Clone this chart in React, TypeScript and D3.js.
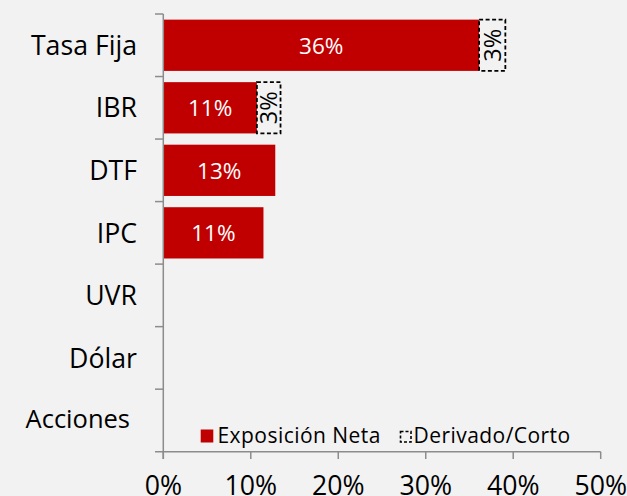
import React from "react";
import * as d3 from "d3";

const categories = ["Tasa Fija", "IBR", "DTF", "IPC", "UVR", "Dólar", "Acciones"];
const exposicionNeta = [36.1, 10.7, 12.8, 11.45, 0, 0, 0];
const derivadoCorto = [3.0, 2.7, 0, 0, 0, 0, 0];
const xTicks = [0, 10, 20, 30, 40, 50];
const legendLabels = ["Exposición Neta", "Derivado/Corto"];

const W = 627;
const H = 496;
const FONT = "'Open Sans', Lato, sans-serif";
const RED = "#c00000";
const AXIS = "#8c8c8c";

export default function App() {
  const x = d3.scaleLinear().domain([0, 50]).range([163.3, 600.7]);
  const y = d3
    .scaleBand<string>()
    .domain(categories)
    .range([14, 451.7])
    .paddingInner(0.18)
    .paddingOuter(0.09);
  const step = y.step();
  const bandTop = (c: string) => 14 + categories.indexOf(c) * step;

  return (
    <svg
      width={W}
      height={H}
      style={{ position: "absolute", left: 0, top: 0, background: "#f2f2f2" }}
      fontFamily={FONT}
    >
      <rect x={0} y={0} width={W} height={H} fill="#f2f2f2" />
      {/* bars */}
      {categories.map((c, i) => {
        const v = exposicionNeta[i];
        const d = derivadoCorto[i];
        const y0 = y(c)!;
        const bw = y.bandwidth();
        return (
          <g key={c}>
            {v > 0 && (
              <rect x={x(0)} y={y0} width={x(v) - x(0)} height={bw} fill={RED} />
            )}
            {v > 0 && (
              <text
                x={(x(0) + x(v)) / 2}
                y={y0 + bw / 2 + 8.3}
                textAnchor="middle"
                fill="#ffffff"
                fontSize={22.5}
              >
                {Math.round(v) + "%"}
              </text>
            )}
            {d > 0 && (
              <g>
                <rect
                  x={x(v)}
                  y={y0}
                  width={x(v + d) - x(v)}
                  height={bw}
                  fill="none"
                  stroke="#000"
                  strokeWidth={1.8}
                  strokeDasharray="4,2.5"
                />
                <text
                  transform={`translate(${(x(v) + x(v + d)) / 2 + 8.3},${y0 + bw / 2}) rotate(-90)`}
                  textAnchor="middle"
                  fill="#000"
                  fontSize={23.5}
                >
                  {Math.round(d) + "%"}
                </text>
              </g>
            )}
          </g>
        );
      })}
      {/* y axis */}
      <line x1={x(0)} x2={x(0)} y1={14} y2={459} stroke={AXIS} strokeWidth={1.5} />
      {categories.map((c) => (
        <line key={"yt" + c} x1={155} x2={x(0)} y1={bandTop(c)} y2={bandTop(c)} stroke={AXIS} strokeWidth={1.5} />
      ))}
      {categories.map((c, i) => {
        const last = i === categories.length - 1;
        return (
          <text
            key={"yl" + c}
            x={last ? 130 : 137}
            y={bandTop(c) + step / 2 + (last ? 8 : 9.7)}
            textAnchor="end"
            fontSize={last ? 25.5 : 26.7}
            fill="#000"
          >
            {c}
          </text>
        );
      })}
      {/* x axis */}
      <line x1={155} x2={x(50)} y1={451.7} y2={451.7} stroke={AXIS} strokeWidth={1.5} />
      {xTicks.map((t) => (
        <g key={"xt" + t}>
          <line x1={x(t)} x2={x(t)} y1={451.7} y2={459} stroke={AXIS} strokeWidth={1.5} />
          <text x={x(t)} y={494.5} textAnchor="middle" fontSize={26.7} fill="#000">
            {t + "%"}
          </text>
        </g>
      ))}
      {/* legend */}
      <rect x={200.7} y={429.5} width={12.6} height={13} fill={RED} />
      <text x={217.5} y={443.3} fontSize={21} letterSpacing={0.45} fill="#000">
        {legendLabels[0]}
      </text>
      <rect
        x={400.5}
        y={431.5}
        width={10.5}
        height={10.5}
        fill="none"
        stroke="#000"
        strokeWidth={1.6}
        strokeDasharray="3,2"
      />
      <text x={413.5} y={443.3} fontSize={21} letterSpacing={0.45} fill="#000">
        {legendLabels[1]}
      </text>
    </svg>
  );
}
